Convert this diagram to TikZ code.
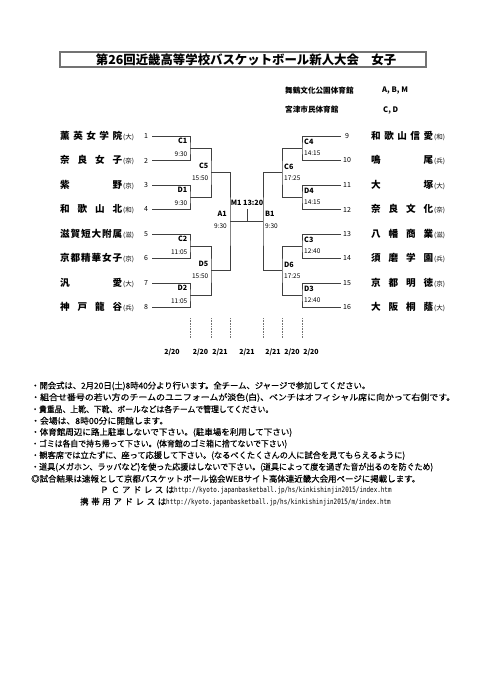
\documentclass[tikz,border=0pt]{standalone}
\usepackage{graphicx}
\usepackage{fontspec}
\setmainfont{Noto Sans CJK JP}
\newfontfamily\notefont[FakeBold=0.4]{Noto Sans CJK JP}
\newfontfamily\urlfont[FakeStretch=0.8]{DejaVu Sans Mono}
\newcommand{\pf}[1]{\kern1pt{\fontsize{6.5}{7}\selectfont\mdseries #1}}

\tikzset{
  titlebox/.style={draw=black!55, line width=1.3pt},
  title/.style={font=\fontsize{12.4}{13}\selectfont\bfseries, inner sep=0pt},
  venue/.style={anchor=west, font=\fontsize{7.6}{8}\selectfont\bfseries, inner sep=0pt},
  team/.style={anchor=west, font=\fontsize{9.6}{10}\selectfont\bfseries, inner sep=0pt},
  seed/.style={font=\fontsize{7}{7}\selectfont, inner sep=0pt},
  bracket/.style={draw=black!75, line width=0.7pt},
  game/.style={font=\fontsize{7.2}{7}\selectfont\bfseries, inner sep=0pt},
  clock/.style={font=\fontsize{6.5}{7}\selectfont, inner sep=0pt},
  daymark/.style={draw=black!55, densely dotted, line width=0.6pt},
  day/.style={font=\fontsize{7}{7}\selectfont\bfseries, inner sep=0pt},
  note/.style={anchor=west, font=\notefont\fontsize{8.4}{9}\selectfont, inner sep=0pt},
}

\begin{document}
\begin{tikzpicture}[x=1pt, y=-1pt]
    \useasboundingbox (0,0) rectangle (482,680);
    % Title
    \draw[titlebox] (60,52) rectangle (426,67);
    \node[title] (ttl) at (246,59.5) {第26回近畿高等学校バスケットボール新人大会　女子};
    % Venues
    \node[venue] (v1) at (285,91) {舞鶴文化公園体育館};
    \node[venue] (v1c) at (382,91) {A, B, M};
    \node[venue] (v2) at (285,110) {宮津市民体育館};
    \node[venue] (v2c) at (383,110) {C, D};

    % Left teams
    \node[team] (n1) at (60,136) {\hbox to 62pt{薫\hfill 英\hfill 女\hfill 学\hfill 院}\pf{(大)}};
    \node[team] (n2) at (60,160.5) {\hbox to 62pt{奈\hfill 良\hfill 女\hfill 子}\pf{(奈)}};
    \node[team] (n3) at (60,185) {\hbox to 62pt{紫\hfill 野}\pf{(京)}};
    \node[team] (n4) at (60,209.5) {\hbox to 62pt{和\hfill 歌\hfill 山\hfill 北}\pf{(和)}};
    \node[team] (n5) at (60,234) {\hbox to 62pt{滋\hfill 賀\hfill 短\hfill 大\hfill 附\hfill 属}\pf{(滋)}};
    \node[team] (n6) at (60,258.5) {\hbox to 62pt{京\hfill 都\hfill 精\hfill 華\hfill 女\hfill 子}\pf{(京)}};
    \node[team] (n7) at (60,283) {\hbox to 62pt{汎\hfill 愛}\pf{(大)}};
    \node[team] (n8) at (60,307.5) {\hbox to 62pt{神\hfill 戸\hfill 龍\hfill 谷}\pf{(兵)}};
    % Left numbers
    \node[seed] (s1) at (146,136) {1};
    \node[seed] (s2) at (146,160.5) {2};
    \node[seed] (s3) at (146,185) {3};
    \node[seed] (s4) at (146,209.5) {4};
    \node[seed] (s5) at (146,234) {5};
    \node[seed] (s6) at (146,258.5) {6};
    \node[seed] (s7) at (146,283) {7};
    \node[seed] (s8) at (146,307.5) {8};

    % Right teams
    \node[team] (n9) at (371,136) {\hbox to 62pt{和\hfill 歌\hfill 山\hfill 信\hfill 愛}\pf{(和)}};
    \node[team] (n10) at (371,160.5) {\hbox to 62pt{鳴\hfill 尾}\pf{(兵)}};
    \node[team] (n11) at (371,185) {\hbox to 62pt{大\hfill 塚}\pf{(大)}};
    \node[team] (n12) at (371,209.5) {\hbox to 62pt{奈\hfill 良\hfill 文\hfill 化}\pf{(奈)}};
    \node[team] (n13) at (371,234) {\hbox to 62pt{八\hfill 幡\hfill 商\hfill 業}\pf{(滋)}};
    \node[team] (n14) at (371,258.5) {\hbox to 62pt{須\hfill 磨\hfill 学\hfill 園}\pf{(兵)}};
    \node[team] (n15) at (371,283) {\hbox to 62pt{京\hfill 都\hfill 明\hfill 徳}\pf{(京)}};
    \node[team] (n16) at (371,307.5) {\hbox to 62pt{大\hfill 阪\hfill 桐\hfill 蔭}\pf{(大)}};
    % Right numbers
    \node[seed] (s9) at (347,136) {9};
    \node[seed] (s10) at (347,160.5) {10};
    \node[seed] (s11) at (347,185) {11};
    \node[seed] (s12) at (347,209.5) {12};
    \node[seed] (s13) at (347,234) {13};
    \node[seed] (s14) at (347,258.5) {14};
    \node[seed] (s15) at (347,283) {15};
    \node[seed] (s16) at (347,307.5) {16};

    % Line ends and game points
    \coordinate (t1) at (152,136);
    \coordinate (t2) at (152,160.5);
    \coordinate (t3) at (152,185);
    \coordinate (t4) at (152,209.5);
    \coordinate (t5) at (152,234);
    \coordinate (t6) at (152,258.5);
    \coordinate (t7) at (152,283);
    \coordinate (t8) at (152,307.5);
    \coordinate (t9) at (341,136);
    \coordinate (t10) at (341,160.5);
    \coordinate (t11) at (341,185);
    \coordinate (t12) at (341,209.5);
    \coordinate (t13) at (341,234);
    \coordinate (t14) at (341,258.5);
    \coordinate (t15) at (341,283);
    \coordinate (t16) at (341,307.5);
    \coordinate (C1) at (190,148.25);
    \coordinate (D1) at (190,197.25);
    \coordinate (C2) at (190,246.25);
    \coordinate (D2) at (190,295.25);
    \coordinate (C5) at (211,172.75);
    \coordinate (D5) at (211,270.75);
    \coordinate (A1) at (230,221.75);
    \coordinate (C4) at (302,148.25);
    \coordinate (D4) at (302,197.25);
    \coordinate (C3) at (302,246.25);
    \coordinate (D3) at (302,295.25);
    \coordinate (C6) at (282,172.75);
    \coordinate (D6) at (282,270.75);
    \coordinate (B1) at (263,221.75);
    \coordinate (M1) at (247,221.75);
    \coordinate (M1top) at (247,209);

    % Draw left bracket
    \draw[bracket] (t1) -| (C1) |- (t2);
    \draw[bracket] (t3) -| (D1) |- (t4);
    \draw[bracket] (t5) -| (C2) |- (t6);
    \draw[bracket] (t7) -| (D2) |- (t8);
    \draw[bracket] (C1) -| (C5) |- (D1);
    \draw[bracket] (C2) -| (D5) |- (D2);
    \draw[bracket] (C5) -| (A1) |- (D5);
    % Draw right bracket
    \draw[bracket] (t9) -| (C4) |- (t10);
    \draw[bracket] (t11) -| (D4) |- (t12);
    \draw[bracket] (t13) -| (C3) |- (t14);
    \draw[bracket] (t15) -| (D3) |- (t16);
    \draw[bracket] (C4) -| (C6) |- (D4);
    \draw[bracket] (C3) -| (D6) |- (D3);
    \draw[bracket] (C6) -| (B1) |- (D6);
    % Final
    \draw[bracket] (A1) -- (B1);
    \draw[bracket] (M1) -- (M1top);

    % Game labels, left
    \node[game, anchor=east] (gC1) at ([shift={(-2.5,-7)}]C1) {C1};
    \node[clock, anchor=east] (kC1) at ([shift={(-2.5,5.5)}]C1) {9:30};
    \node[game, anchor=east] (gD1) at ([shift={(-2.5,-7)}]D1) {D1};
    \node[clock, anchor=east] (kD1) at ([shift={(-2.5,5.5)}]D1) {9:30};
    \node[game, anchor=east] (gC2) at ([shift={(-2.5,-7)}]C2) {C2};
    \node[clock, anchor=east] (kC2) at ([shift={(-2.5,5.5)}]C2) {11:05};
    \node[game, anchor=east] (gD2) at ([shift={(-2.5,-7)}]D2) {D2};
    \node[clock, anchor=east] (kD2) at ([shift={(-2.5,5.5)}]D2) {11:05};
    \node[game, anchor=east] (gC5) at ([shift={(-2.5,-6.5)}]C5) {C5};
    \node[clock, anchor=east] (kC5) at ([shift={(-2.5,5.5)}]C5) {15:50};
    \node[game, anchor=east] (gD5) at ([shift={(-2.5,-6.5)}]D5) {D5};
    \node[clock, anchor=east] (kD5) at ([shift={(-2.5,5.5)}]D5) {15:50};
    \node[game, anchor=east] (gA1) at ([shift={(-3,-7.5)}]A1) {A1};
    \node[clock, anchor=east] (kA1) at ([shift={(-3,4.5)}]A1) {9:30};
    % Game labels, right
    \node[game, anchor=west] (gC4) at ([shift={(2,-6.5)}]C4) {C4};
    \node[clock, anchor=west] (kC4) at ([shift={(2,5)}]C4) {14:15};
    \node[game, anchor=west] (gD4) at ([shift={(2,-6.5)}]D4) {D4};
    \node[clock, anchor=west] (kD4) at ([shift={(2,5)}]D4) {14:15};
    \node[game, anchor=west] (gC3) at ([shift={(2,-6.5)}]C3) {C3};
    \node[clock, anchor=west] (kC3) at ([shift={(2,5)}]C3) {12:40};
    \node[game, anchor=west] (gD3) at ([shift={(2,-6.5)}]D3) {D3};
    \node[clock, anchor=west] (kD3) at ([shift={(2,5)}]D3) {12:40};
    \node[game, anchor=west] (gC6) at ([shift={(2,-6)}]C6) {C6};
    \node[clock, anchor=west] (kC6) at ([shift={(2,5.5)}]C6) {17:25};
    \node[game, anchor=west] (gD6) at ([shift={(2,-6)}]D6) {D6};
    \node[clock, anchor=west] (kD6) at ([shift={(2,5.5)}]D6) {17:25};
    \node[game, anchor=west] (gB1) at ([shift={(2,-7.5)}]B1) {B1};
    \node[clock, anchor=west] (kB1) at ([shift={(2,4.5)}]B1) {9:30};
    \node[game] (gM1) at (247,203) {M1 13:20};

    % Day marks
    \draw[daymark] (190,318) -- (190,338);
    \draw[daymark] (211,318) -- (211,338);
    \draw[daymark] (230,318) -- (230,338);
    \draw[daymark] (263,318) -- (263,338);
    \draw[daymark] (282,318) -- (282,338);
    \draw[daymark] (302,318) -- (302,338);
    \node[day] (dy1) at (172,352) {2/20};
    \node[day] (dy2) at (200.5,352) {2/20};
    \node[day] (dy3) at (220,352) {2/21};
    \node[day] (dy4) at (247,352) {2/21};
    \node[day] (dy5) at (273,352) {2/21};
    \node[day] (dy6) at (292,352) {2/20};
    \node[day] (dy7) at (311,352) {2/20};

    % Notes
    \node[note] (r1) at (31,386) {\resizebox{339pt}{\height}{・開会式は、2月20日(土)8時40分より行います。全チーム、ジャージで参加してください。}};
    \node[note] (r2) at (31,397.6) {\resizebox{424pt}{\height}{・組合せ番号の若い方のチームのユニフォームが淡色(白)、ベンチはオフィシャル席に向かって右側です。}};
    \node[note] (r3) at (31,409.2) {\resizebox{242pt}{\height}{・貴重品、上靴、下靴、ボールなどは各チームで管理してください。}};
    \node[note] (r4) at (31,420.8) {\resizebox{137pt}{\height}{・会場は、8時00分に開館します。}};
    \node[note] (r5) at (31,432.4) {\resizebox{261pt}{\height}{・体育館周辺に路上駐車しないで下さい。(駐車場を利用して下さい)}};
    \node[note] (r6) at (31,444) {\resizebox{256pt}{\height}{・ゴミは各自で持ち帰って下さい。(体育館のゴミ箱に捨てないで下さい)}};
    \node[note] (r7) at (31,455.6) {\resizebox{374pt}{\height}{・観客席では立たずに、座って応援して下さい。(なるべくたくさんの人に試合を見てもらえるように)}};
    \node[note] (r8) at (31,467.2) {\resizebox{402pt}{\height}{・道具(メガホン、ラッパなど)を使った応援はしないで下さい。(道具によって度を過ぎた音が出るのを防ぐため)}};
    \node[note] (r9) at (31,478.8) {\resizebox{389pt}{\height}{◎試合結果は速報として京都バスケットボール協会WEBサイト高体連近畿大会用ページに掲載します。}};
    \node[note] (r10) at (100,490.4) {\hbox to 74pt{Ｐ\hfill Ｃ\hfill ア\hfill ド\hfill レ\hfill ス\hfill は}{\urlfont\fontsize{7.4}{8}\selectfont http://kyoto.japanbasketball.jp/hs/kinkishinjin2015/index.htm}};
    \node[note] (r11) at (80,502) {\hbox to 86pt{携\hfill 帯\hfill 用\hfill ア\hfill ド\hfill レ\hfill ス\hfill は}{\urlfont\fontsize{7.4}{8}\selectfont http://kyoto.japanbasketball.jp/hs/kinkishinjin2015/m/index.htm}};
\end{tikzpicture}
\end{document}
